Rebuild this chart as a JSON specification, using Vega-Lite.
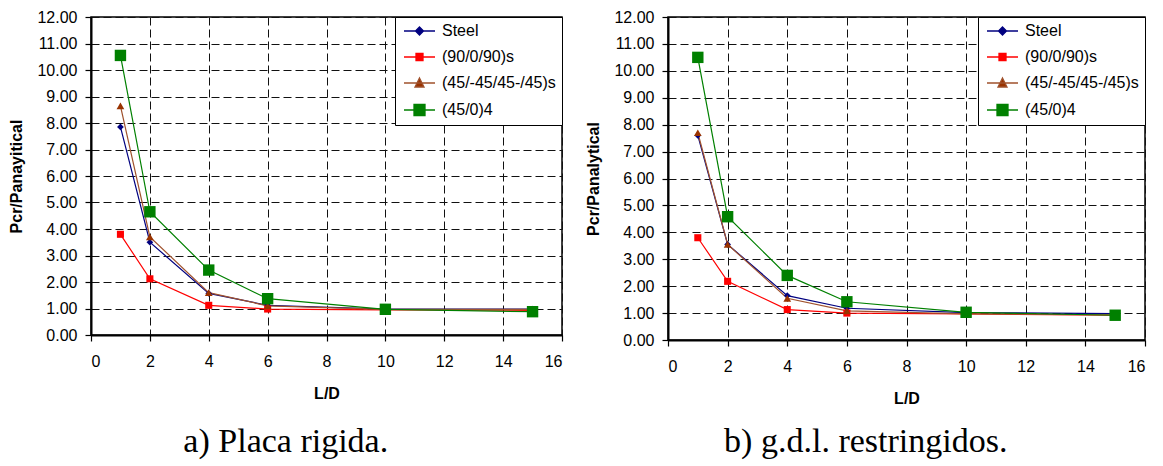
{
  "$schema": "https://vega.github.io/schema/vega-lite/v6.json",
  "padding": {"left": 8, "top": 8, "right": 0, "bottom": 0},
  "spacing": 21,
  "background": "white",
  "datasets": {
    "a": [
      {"series": "Steel", "LD": 1, "P": 7.85}, {"series": "Steel", "LD": 2, "P": 3.5}, {"series": "Steel", "LD": 4, "P": 1.57}, {"series": "Steel", "LD": 6, "P": 1.12}, {"series": "Steel", "LD": 10, "P": 0.98}, {"series": "Steel", "LD": 15, "P": 0.98},
      {"series": "(90/0/90)s", "LD": 1, "P": 3.8}, {"series": "(90/0/90)s", "LD": 2, "P": 2.12}, {"series": "(90/0/90)s", "LD": 4, "P": 1.12}, {"series": "(90/0/90)s", "LD": 6, "P": 0.98}, {"series": "(90/0/90)s", "LD": 10, "P": 0.95}, {"series": "(90/0/90)s", "LD": 15, "P": 0.93},
      {"series": "(45/-45/45-/45)s", "LD": 1, "P": 8.65}, {"series": "(45/-45/45-/45)s", "LD": 2, "P": 3.7}, {"series": "(45/-45/45-/45)s", "LD": 4, "P": 1.6}, {"series": "(45/-45/45-/45)s", "LD": 6, "P": 1.1}, {"series": "(45/-45/45-/45)s", "LD": 10, "P": 0.97}, {"series": "(45/-45/45-/45)s", "LD": 15, "P": 0.97},
      {"series": "(45/0)4", "LD": 1, "P": 10.55}, {"series": "(45/0)4", "LD": 2, "P": 4.65}, {"series": "(45/0)4", "LD": 4, "P": 2.45}, {"series": "(45/0)4", "LD": 6, "P": 1.37}, {"series": "(45/0)4", "LD": 10, "P": 0.97}, {"series": "(45/0)4", "LD": 15, "P": 0.88}
    ],
    "b": [
      {"series": "Steel", "LD": 1, "P": 7.6}, {"series": "Steel", "LD": 2, "P": 3.55}, {"series": "Steel", "LD": 4, "P": 1.65}, {"series": "Steel", "LD": 6, "P": 1.18}, {"series": "Steel", "LD": 10, "P": 1.02}, {"series": "Steel", "LD": 15, "P": 0.98},
      {"series": "(90/0/90)s", "LD": 1, "P": 3.8}, {"series": "(90/0/90)s", "LD": 2, "P": 2.18}, {"series": "(90/0/90)s", "LD": 4, "P": 1.13}, {"series": "(90/0/90)s", "LD": 6, "P": 1.0}, {"series": "(90/0/90)s", "LD": 10, "P": 0.97}, {"series": "(90/0/90)s", "LD": 15, "P": 0.92},
      {"series": "(45/-45/45-/45)s", "LD": 1, "P": 7.7}, {"series": "(45/-45/45-/45)s", "LD": 2, "P": 3.55}, {"series": "(45/-45/45-/45)s", "LD": 4, "P": 1.55}, {"series": "(45/-45/45-/45)s", "LD": 6, "P": 1.08}, {"series": "(45/-45/45-/45)s", "LD": 10, "P": 0.97}, {"series": "(45/-45/45-/45)s", "LD": 15, "P": 0.93},
      {"series": "(45/0)4", "LD": 1, "P": 10.5}, {"series": "(45/0)4", "LD": 2, "P": 4.58}, {"series": "(45/0)4", "LD": 4, "P": 2.4}, {"series": "(45/0)4", "LD": 6, "P": 1.42}, {"series": "(45/0)4", "LD": 10, "P": 1.03}, {"series": "(45/0)4", "LD": 15, "P": 0.92}
    ]
  },
  "hconcat": [
    {
      "width": 471,
      "height": 318,
      "data": {"name": "a"},
      "title": {"text": "a) Placa rigida.", "orient": "bottom", "anchor": "middle", "frame": "bounds", "font": "Liberation Serif", "fontSize": 34, "fontWeight": "normal", "offset": 24, "color": "black"},
      "encoding": {
        "x": {"field": "LD", "type": "quantitative", "title": "L/D", "scale": {"domain": [0, 16], "nice": false}, "axis": {"values": [0, 2, 4, 6, 8, 10, 12, 14, 16]}},
        "y": {"field": "P", "type": "quantitative", "title": "Pcr/Panayitical", "scale": {"domain": [0, 12], "nice": false}, "axis": {"values": [0, 1, 2, 3, 4, 5, 6, 7, 8, 9, 10, 11, 12], "format": ".2f"}}
      },
      "layer": [
        {
          "mark": {"type": "line", "strokeWidth": 1.2},
          "encoding": {
            "color": {"field": "series", "type": "nominal", "title": null,
              "scale": {"domain": ["Steel", "(90/0/90)s", "(45/-45/45-/45)s", "(45/0)4"], "range": ["#000080", "#FF0000", "#A0522D", "#008000"]},
              "legend": {"orient": "top-right", "offset": 0, "fillColor": "white", "strokeColor": "black", "padding": 6, "rowPadding": 10, "symbolSize": 100, "labelOffset": 25, "labelFont": "Liberation Sans", "labelFontSize": 16, "labelColor": "black", "labelLimit": 0,
                "encode": {"symbols": {
                  "update": {
                    "shape": {"signal": "datum.value === 'Steel' ? 'M-1,0H5.2M2.1,-0.8L2.9,0L2.1,0.8L1.3,0Z' : datum.value === '(90/0/90)s' ? 'M-1,0H5.2M1.4,-0.7H2.8V0.7H1.4Z' : datum.value === '(45/-45/45-/45)s' ? 'M-1,0H5.2M2.1,-1L3,0.8H1.2Z' : 'M-1,0H5.2M1,-1.1H3.2V1.1H1Z'"},
                    "fill": {"signal": "datum.value === 'Steel' ? '#000080' : datum.value === '(90/0/90)s' ? '#FF0000' : datum.value === '(45/-45/45-/45)s' ? '#993300' : '#008000'"},
                    "stroke": {"signal": "datum.value === 'Steel' ? '#000080' : datum.value === '(90/0/90)s' ? '#FF0000' : datum.value === '(45/-45/45-/45)s' ? '#C08060' : '#008000'"},
                    "strokeWidth": {"value": 1.3},
                    "opacity": {"value": 1}
                  }
                }}
              }
            }
          }
        },
        {"transform": [{"filter": "datum.series === 'Steel'"}], "mark": {"type": "point", "filled": true, "opacity": 1, "shape": "diamond", "size": 45, "color": "#000080"}},
        {"transform": [{"filter": "datum.series === '(90/0/90)s'"}], "mark": {"type": "point", "filled": true, "opacity": 1, "shape": "square", "size": 50, "color": "#FF0000"}},
        {"transform": [{"filter": "datum.series === '(45/-45/45-/45)s'"}], "mark": {"type": "point", "filled": true, "opacity": 1, "shape": "triangle-up", "size": 60, "color": "#993300"}},
        {"transform": [{"filter": "datum.series === '(45/0)4'"}], "mark": {"type": "point", "filled": true, "opacity": 1, "shape": "square", "size": 130, "color": "#008000"}}
      ]
    },
    {
      "width": 477,
      "height": 323,
      "data": {"name": "b"},
      "title": {"text": "b) g.d.l. restringidos.", "orient": "bottom", "anchor": "middle", "frame": "bounds", "font": "Liberation Serif", "fontSize": 34, "fontWeight": "normal", "offset": 19, "color": "black"},
      "encoding": {
        "x": {"field": "LD", "type": "quantitative", "title": "L/D", "scale": {"domain": [0, 16], "nice": false}, "axis": {"values": [0, 2, 4, 6, 8, 10, 12, 14, 16]}},
        "y": {"field": "P", "type": "quantitative", "title": "Pcr/Panalytical", "scale": {"domain": [0, 12], "nice": false}, "axis": {"values": [0, 1, 2, 3, 4, 5, 6, 7, 8, 9, 10, 11, 12], "format": ".2f"}}
      },
      "layer": [
        {
          "mark": {"type": "line", "strokeWidth": 1.2},
          "encoding": {
            "color": {"field": "series", "type": "nominal", "title": null,
              "scale": {"domain": ["Steel", "(90/0/90)s", "(45/-45/45-/45)s", "(45/0)4"], "range": ["#000080", "#FF0000", "#A0522D", "#008000"]},
              "legend": {"orient": "top-right", "offset": 0, "fillColor": "white", "strokeColor": "black", "padding": 6, "rowPadding": 10, "symbolSize": 100, "labelOffset": 25, "labelFont": "Liberation Sans", "labelFontSize": 16, "labelColor": "black", "labelLimit": 0,
                "encode": {"symbols": {
                  "update": {
                    "shape": {"signal": "datum.value === 'Steel' ? 'M-1,0H5.2M2.1,-0.8L2.9,0L2.1,0.8L1.3,0Z' : datum.value === '(90/0/90)s' ? 'M-1,0H5.2M1.4,-0.7H2.8V0.7H1.4Z' : datum.value === '(45/-45/45-/45)s' ? 'M-1,0H5.2M2.1,-1L3,0.8H1.2Z' : 'M-1,0H5.2M1,-1.1H3.2V1.1H1Z'"},
                    "fill": {"signal": "datum.value === 'Steel' ? '#000080' : datum.value === '(90/0/90)s' ? '#FF0000' : datum.value === '(45/-45/45-/45)s' ? '#993300' : '#008000'"},
                    "stroke": {"signal": "datum.value === 'Steel' ? '#000080' : datum.value === '(90/0/90)s' ? '#FF0000' : datum.value === '(45/-45/45-/45)s' ? '#C08060' : '#008000'"},
                    "strokeWidth": {"value": 1.3},
                    "opacity": {"value": 1}
                  }
                }}
              }
            }
          }
        },
        {"transform": [{"filter": "datum.series === 'Steel'"}], "mark": {"type": "point", "filled": true, "opacity": 1, "shape": "diamond", "size": 45, "color": "#000080"}},
        {"transform": [{"filter": "datum.series === '(90/0/90)s'"}], "mark": {"type": "point", "filled": true, "opacity": 1, "shape": "square", "size": 50, "color": "#FF0000"}},
        {"transform": [{"filter": "datum.series === '(45/-45/45-/45)s'"}], "mark": {"type": "point", "filled": true, "opacity": 1, "shape": "triangle-up", "size": 60, "color": "#993300"}},
        {"transform": [{"filter": "datum.series === '(45/0)4'"}], "mark": {"type": "point", "filled": true, "opacity": 1, "shape": "square", "size": 130, "color": "#008000"}}
      ]
    }
  ],
  "resolve": {"scale": {"color": "independent"}, "legend": {"color": "independent"}},
  "config": {
    "view": {"stroke": "black", "strokeWidth": 1.5},
    "axis": {
      "labelFont": "Liberation Sans", "labelFontSize": 16, "labelColor": "black",
      "titleFont": "Liberation Sans", "titleFontSize": 16, "titleFontWeight": "bold", "titleColor": "black",
      "domainColor": "black", "domainWidth": 2, "tickColor": "black", "tickSize": 6, "tickWidth": 1.2,
      "grid": true, "gridColor": "#111", "gridDash": [8, 4], "gridWidth": 1, "gridOpacity": 1
    },
    "axisX": {"labelPadding": 12, "titlePadding": 16},
    "axisY": {"labelPadding": 8, "titlePadding": 12}
  }
}
